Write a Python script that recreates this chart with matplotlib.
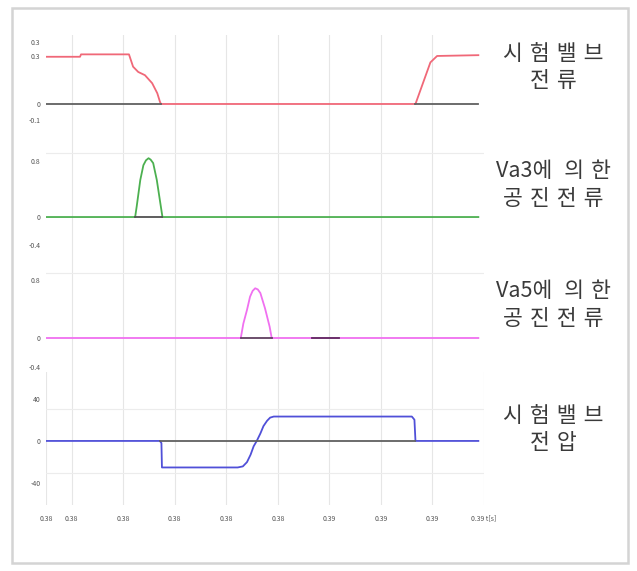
import numpy as np
import matplotlib
matplotlib.use('Agg')
import matplotlib.pyplot as plt
from matplotlib.patches import Rectangle

plt.rcParams['font.family'] = ['Noto Sans CJK KR', 'DejaVu Sans']

# time axis [s]
x_ticks = [0.380, 0.3805, 0.3815, 0.3825, 0.3835, 0.3845, 0.3855, 0.3865, 0.3875, 0.3885]
x_labels = ['0.38', '0.38', '0.38', '0.38', '0.38', '0.38', '0.39', '0.39', '0.39', '0.39 t[s]']

# test valve current
t_cur = [0.38, 0.38066, 0.38068, 0.38161, 0.38169, 0.38179, 0.38192, 0.38206, 0.38216,
         0.38221, 0.38223, 0.38717, 0.38746, 0.38759, 0.38839]
i_cur = [0.295, 0.295, 0.31, 0.31, 0.233, 0.2, 0.18, 0.13, 0.067, 0.015, 0.0, 0.0, 0.26, 0.3, 0.305]
t_cur_ref = [0.38, 0.38223, np.nan, 0.38717, 0.38839]
i_cur_ref = [0.0, 0.0, np.nan, 0.0, 0.0]

# resonant current from Va3
t_va3 = [0.38, 0.38173, 0.38176, 0.38183, 0.38189, 0.38194, 0.38199, 0.38203, 0.38208,
         0.38215, 0.38221, 0.38226, 0.38839]
i_va3 = [0.0, 0.0, 0.15, 0.53, 0.74, 0.81, 0.84, 0.82, 0.77, 0.53, 0.24, 0.0, 0.0]
t_va3_ref = [0.38173, 0.38226]
i_va3_ref = [0.0, 0.0]

# resonant current from Va5
t_va5 = [0.38, 0.38378, 0.38383, 0.38390, 0.38396, 0.38401, 0.38406, 0.38411, 0.38416,
         0.38425, 0.38434, 0.38438, 0.38839]
i_va5 = [0.0, 0.0, 0.2, 0.386, 0.57, 0.65, 0.686, 0.67, 0.62, 0.41, 0.156, 0.0, 0.0]
t_va5_ref = [0.38378, 0.38438]
i_va5_ref = [0.0, 0.0]
t_va5_off = [0.38516, 0.38568]
i_va5_off = [0.0, 0.0]

# test valve voltage
t_vol = [0.38, 0.38221, 0.38224, 0.38225, 0.38372, 0.38382, 0.38390, 0.38397, 0.38403, 0.38409,
         0.38416, 0.38422, 0.38429, 0.38435, 0.38442, 0.38448, 0.38710, 0.38715, 0.38717, 0.38839]
v_vol = [0, 0, -2, -25, -25, -24, -20, -13, -5, 0, 7, 14, 19, 22, 23, 23, 23, 20, 0, 0]
t_vol_ref = [0.38221, 0.38717]
v_vol_ref = [0, 0]

E = '\u2004'
names = [f'시{E}험{E}밸{E}브\n전{E}류',
         f'Va3에 {E}의{E}한\n공{E}진{E}전{E}류',
         f'Va5에 {E}의{E}한\n공{E}진{E}전{E}류',
         f'시{E}험{E}밸{E}브\n전{E}압']

W, H = 637, 571
fig = plt.figure(figsize=(W / 100, H / 100), dpi=100)

# pixel rows of the four strips
rows = [(35, 126), (126, 250), (250, 372), (372, 505)]
x0, x1 = 46, 484

panels = [
    dict(lines=[(t_cur, i_cur, '#f06878'), (t_cur_ref, i_cur_ref, '#606060')],
         ylim=(-0.1375, 0.431), yt=[-0.1, 0, 0.3, 0.39], ytl=['-0.1', '0', '0.3', '0.3'], grid=[]),
    dict(lines=[(t_va3, i_va3, '#4cb050'), (t_va3_ref, i_va3_ref, '#505050')],
         ylim=(-0.471, 1.3), yt=[-0.4, 0, 0.8], ytl=['-0.4', '0', '0.8'], grid=[0.91]),
    dict(lines=[(t_va5, i_va5, '#f070f0'), (t_va5_ref, i_va5_ref, '#604060'),
                (t_va5_off, i_va5_off, '#602a60')],
         ylim=(-0.469, 1.214), yt=[-0.4, 0, 0.8], ytl=['-0.4', '0', '0.8'], grid=[0.9]),
    dict(lines=[(t_vol, v_vol, '#5050d8'), (t_vol_ref, v_vol_ref, '#606060')],
         ylim=(-60.4, 65), yt=[-40, 0, 40], ytl=['-40', '0', '40'], grid=[-30, 30]),
]

for k, (p, (ya, yb)) in enumerate(zip(panels, rows)):
    ax = fig.add_axes([x0 / W, 1 - yb / H, (x1 - x0) / W, (yb - ya) / H])
    ax.set_facecolor('none')
    for t, v, c in p['lines']:
        ax.plot(t, v, color=c, lw=1.3, solid_joinstyle='round')
    ax.set_xlim(0.38, 0.3885)
    ax.set_ylim(*p['ylim'])
    ax.set_xticks(x_ticks[1:-1])
    ax.grid(True, axis='x', color='#e6e6e6', lw=0.8)
    ax.set_yticks(p['yt'])
    ax.set_yticklabels(p['ytl'])
    ax.set_yticks(p['grid'], minor=True)
    ax.grid(True, axis='y', which='minor', color='#ececec', lw=0.8)
    ax.tick_params(axis='y', which='both', length=0, labelsize=5, labelcolor='#555555', pad=4)
    ax.tick_params(axis='x', length=0)
    for s in ax.spines.values():
        s.set_visible(False)
    ax.set_axisbelow(True)
    if k < 3:
        ax.set_xticklabels([])
    else:
        ax.set_xticks(x_ticks)
        ax.set_xticklabels(x_labels)
        ax.tick_params(axis='x', labelsize=5, labelcolor='#555555', pad=7)
    fig.text(553 / W, 1 - ((ya + yb) / 2 + [-13, -3, -6, -9][k]) / H, names[k],
             ha='center', va='center', fontsize=15.5, color='#3a3a3a', linespacing=1.32)

fig.patches.append(Rectangle((12 / W, 1 - 563 / H), 616 / W, 555 / H, transform=fig.transFigure,
                             fill=False, edgecolor='#d4d4d4', lw=1.8))

fig.savefig('out.png', dpi=100)
